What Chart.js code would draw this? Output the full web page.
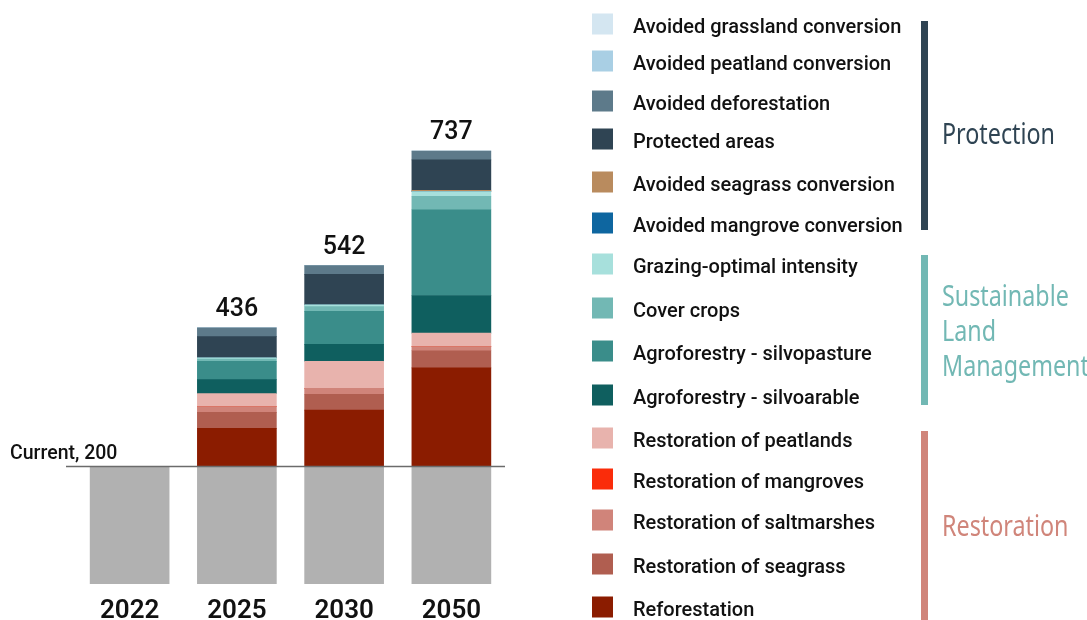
<!DOCTYPE html>
<html>
<head>
<meta charset="utf-8">
<script src="https://cdn.jsdelivr.net/npm/chart.js@4.4.1/dist/chart.umd.min.js"></script>
<style>
  html, body { margin: 0; padding: 0; background: #fff; }
  canvas { display: block; }
</style>
</head>
<body>
<canvas id="chart" width="1087" height="620"></canvas>
<script>
// categories
const years = ['2022', '2025', '2030', '2050'];
const currentLevel = 200;

// series values (stack order, bottom to top)
const current = [200, 200, 200, 200];
const reforestation = [0, 65, 96, 168];
const restSeagrass = [0, 27, 27, 29];
const restSaltmarshes = [0, 10, 10, 7];
const restMangroves = [0, 0, 0, 0];
const restPeatlands = [0, 22, 46, 23];
const silvoarable = [0, 24, 29, 64];
const silvopasture = [0, 31, 56, 146];
const coverCrops = [0, 4, 8, 23];
const grazing = [0, 2, 3, 8];
const avoidedMangrove = [0, 0, 0, 0];
const avoidedSeagrass = [0, 0, 0, 2];
const protectedAreas = [0, 36, 52, 52];
const avoidedDeforestation = [0, 15, 15, 15];
const avoidedPeatland = [0, 0, 0, 0];
const avoidedGrassland = [0, 0, 0, 0];

const groups = [
    { name: ['Protection'], color: '#2f4453', from: 21, to: 230, labelY: [136] },
    { name: ['Sustainable', 'Land', 'Management'], color: '#72b8b4', from: 255, to: 405, labelY: [298, 333, 368] },
    { name: ['Restoration'], color: '#d0857a', from: 431, to: 620, labelY: [528] }
];

function ds(label, data, color) {
    return { label: label, data: data, backgroundColor: color, borderWidth: 0, barThickness: 79 };
}

const datasets = [
    ds('Current', current, '#b1b1b1'),
    ds('Reforestation', reforestation, '#8b1c00'),
    ds('Restoration of seagrass', restSeagrass, '#b05e50'),
    ds('Restoration of saltmarshes', restSaltmarshes, '#d0847a'),
    ds('Restoration of mangroves', restMangroves, '#fa2c0a'),
    ds('Restoration of peatlands', restPeatlands, '#e8b3ad'),
    ds('Agroforestry - silvoarable', silvoarable, '#0f5f5f'),
    ds('Agroforestry - silvopasture', silvopasture, '#3a8d8a'),
    ds('Cover crops', coverCrops, '#72b8b4'),
    ds('Grazing-optimal intensity', grazing, '#a7e0dc'),
    ds('Avoided mangrove conversion', avoidedMangrove, '#0e66a0'),
    ds('Avoided seagrass conversion', avoidedSeagrass, '#b98b5e'),
    ds('Protected areas', protectedAreas, '#2f4453'),
    ds('Avoided deforestation', avoidedDeforestation, '#5d7a8a'),
    ds('Avoided peatland conversion', avoidedPeatland, '#a9cfe4'),
    ds('Avoided grassland conversion', avoidedGrassland, '#d4e6f1')
];

// legend rows, top to bottom
const legendRowY = [24, 61, 101, 139, 182, 223, 264, 308, 351, 395, 438, 479, 520, 564, 607];

const overlay = {
    id: 'overlay',
    afterDatasetsDraw(chart) {
        const ctx = chart.ctx;
        const x = chart.scales.x, y = chart.scales.y;
        ctx.save();

        // current level line
        const yc = y.getPixelForValue(currentLevel);
        ctx.strokeStyle = '#6b6b6b';
        ctx.lineWidth = 1.5;
        ctx.beginPath();
        ctx.moveTo(66, yc);
        ctx.lineTo(505, yc);
        ctx.stroke();
        ctx.fillStyle = '#111';
        ctx.font = '500 19.5px Roboto';
        ctx.textAlign = 'left';
        ctx.textBaseline = 'alphabetic';
        ctx.fillText('Current, ' + currentLevel, 10, yc - 8);

        // year labels and totals
        years.forEach((yr, i) => {
            const cx = x.getPixelForValue(i);
            ctx.textAlign = 'center';
            ctx.font = '600 26px Roboto';
            ctx.fillStyle = '#111';
            ctx.textBaseline = 'alphabetic';
            ctx.fillText(yr, cx, 618);
            const total = datasets.reduce((s, d) => s + d.data[i], 0);
            if (total > currentLevel) {
                ctx.font = '500 25px Roboto';
                ctx.fillText(String(total), cx, y.getPixelForValue(total) - 12);
            }
        });

        // legend
        const items = datasets.slice(1).reverse();
        ctx.textAlign = 'left';
        ctx.textBaseline = 'middle';
        ctx.font = '500 20px Roboto';
        items.forEach((d, i) => {
            const ry = legendRowY[i];
            ctx.fillStyle = d.backgroundColor;
            ctx.fillRect(592, ry - 10.5, 21, 21);
            ctx.fillStyle = '#111';
            ctx.fillText(d.label, 633, ry + 3.5);
        });

        // group brackets, labels squeezed to a condensed look
        ctx.font = '400 29px "Noto Sans", sans-serif';
        const sx = 113 / ctx.measureText('Protection').width;
        groups.forEach(g => {
            ctx.fillStyle = g.color;
            ctx.fillRect(921, g.from, 7, g.to - g.from);
            ctx.textBaseline = 'middle';
            g.name.forEach((line, k) => {
                ctx.save();
                ctx.translate(942, g.labelY[k]);
                ctx.scale(sx, 1);
                ctx.fillText(line, 0, 0);
                ctx.restore();
            });
        });

        ctx.restore();
    }
};

new Chart(document.getElementById('chart'), {
    type: 'bar',
    data: { labels: years, datasets: datasets },
    options: {
        responsive: false,
        animation: false,
        layout: { padding: { left: 76, right: 582, top: 114, bottom: 36 } },
        plugins: { legend: { display: false }, tooltip: { enabled: false } },
        scales: {
            x: { stacked: true, display: false },
            y: { stacked: true, display: false, min: 0, max: 800 }
        }
    },
    plugins: [overlay]
});
</script>
</body>
</html>
